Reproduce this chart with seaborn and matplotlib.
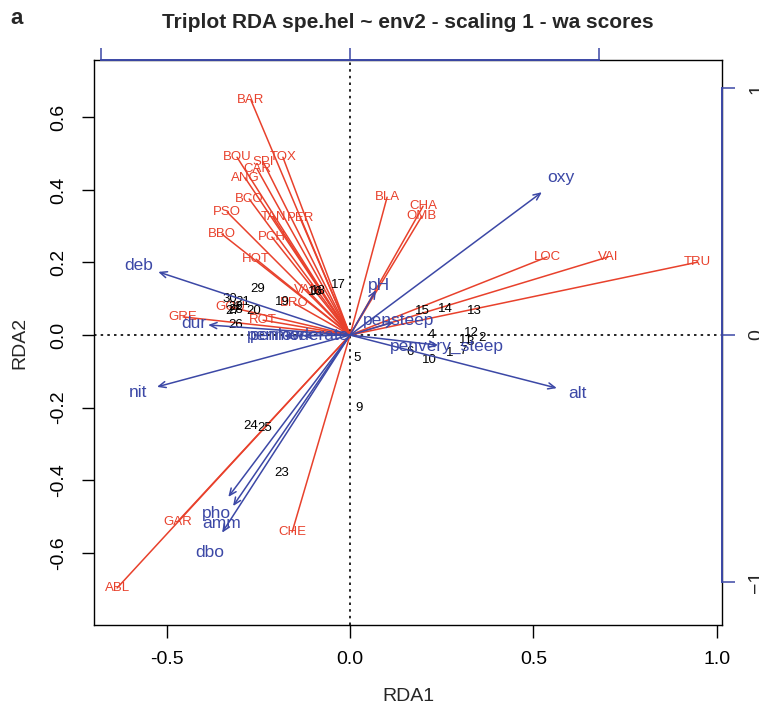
import numpy as np
import pandas as pd
import matplotlib
matplotlib.use("Agg")
import matplotlib.pyplot as plt
import seaborn as sns

# species wa-scores (scaling 1)
species = ["BAR", "TOX", "SPI", "BOU", "CAR", "ANG", "BCO", "PSO", "TAN", "PER",
           "PCH", "BBO", "HOT", "VAN", "BRO", "GOU", "ROT", "GRE", "GAR", "ABL",
           "CHE", "BLA", "CHA", "OMB", "LOC", "VAI", "TRU"]
sp_x = [-0.270, -0.183, -0.237, -0.308, -0.253, -0.286, -0.275, -0.335, -0.210, -0.136,
        -0.213, -0.349, -0.256, -0.117, -0.153, -0.327, -0.237, -0.455, -0.471, -0.635,
        -0.158, 0.101, 0.199, 0.196, 0.537, 0.703, 0.948]
sp_y = [0.647, 0.490, 0.477, 0.490, 0.457, 0.433, 0.375, 0.339, 0.325, 0.322,
        0.270, 0.278, 0.209, 0.124, 0.088, 0.077, 0.041, 0.050, -0.515, -0.697,
        -0.543, 0.380, 0.355, 0.328, 0.215, 0.215, 0.201]

# site scores
sites = ["1", "2", "3", "4", "5", "6", "7", "9", "10", "11", "12", "13", "14", "15",
         "16", "17", "18", "19", "20", "21", "22", "23", "24", "25", "26", "27", "28",
         "29", "30"]
site_x = [0.272, 0.360, 0.327, 0.223, 0.019, 0.163, 0.308, 0.025, 0.215, 0.316, 0.330,
          0.338, 0.259, 0.196, -0.095, -0.033, -0.087, -0.185, -0.262, -0.292, -0.311,
          -0.185, -0.272, -0.234, -0.313, -0.319, -0.311, -0.251, -0.327]
site_y = [-0.050, -0.008, -0.019, 0.000, -0.063, -0.047, -0.044, -0.201, -0.069, -0.014,
          0.006, 0.066, 0.072, 0.066, 0.118, 0.138, 0.121, 0.091, 0.066, 0.091, 0.077,
          -0.380, -0.251, -0.256, 0.028, 0.066, 0.069, 0.127, 0.099]

# environmental biplot scores (units of the top / right axes)
env = ["oxy", "alt", "deb", "nit", "dur", "pho", "amm", "dbo", "pH",
       "pensteep", "penvery_steep", "penlow", "penmoderate"]
env_x = [0.769, 0.829, -0.769, -0.774, -0.569, -0.488, -0.469, -0.513, 0.104,
         0.176, 0.353, -0.265, -0.188]
env_y = [0.579, -0.215, 0.256, -0.210, 0.041, -0.656, -0.693, -0.801, 0.182,
         0.053, -0.041, -0.003, -0.003]

mul = 0.68  # arrow multiplier: plot units = mul * biplot score

red = "#e8412c"
blue = "#3c48a6"

sns.set_style("white")
plt.rcParams["font.family"] = ["Liberation Sans", "DejaVu Sans"]

fig = plt.figure(figsize=(7.59, 7.07), dpi=100)
ax = fig.add_axes([94 / 759, 1 - 625 / 707, (722 - 94) / 759, (625 - 60) / 707])

ax.axhline(0, color="black", ls=(0, (1.5, 2.5)), lw=1.2, zorder=0)
ax.axvline(0, color="black", ls=(0, (1.5, 2.5)), lw=1.2, zorder=0)

# species as red segments from origin
seg = pd.DataFrame({
    "species": np.repeat(species, 2),
    "x": np.ravel([[0, v] for v in sp_x]),
    "y": np.ravel([[0, v] for v in sp_y]),
})
sns.lineplot(data=seg, x="x", y="y", units="species", estimator=None, sort=False,
             color=red, lw=1.1, ax=ax, legend=False)
for name, x, y in zip(species, sp_x, sp_y):
    ax.text(x, y, name, color=red, fontsize=9.5, ha="center", va="center", zorder=3)

for name, x, y in zip(sites, site_x, site_y):
    ax.text(x, y, name, color="black", fontsize=9.5, ha="center", va="center", zorder=4)

for name, x, y in zip(env, env_x, env_y):
    ax.annotate("", xy=(x * mul, y * mul), xytext=(0, 0),
                arrowprops=dict(arrowstyle="->,head_length=0.5,head_width=0.22",
                                color=blue, lw=1.1, shrinkA=0, shrinkB=0), zorder=5)
    ax.text(x * mul * 1.1, y * mul * 1.1, name, color=blue, fontsize=12.5,
            ha="center", va="center", zorder=6)

ax.set_xlim(-0.698, 1.014)
ax.set_ylim(-0.799, 0.758)
ax.set_xticks([-0.5, 0.0, 0.5, 1.0])
ax.set_yticks([-0.6, -0.4, -0.2, 0.0, 0.2, 0.4, 0.6])
ax.xaxis.set_major_formatter(matplotlib.ticker.FormatStrFormatter("%.1f"))
ax.yaxis.set_major_formatter(matplotlib.ticker.FormatStrFormatter("%.1f"))
ax.tick_params(direction="out", length=9, width=1, labelsize=14, pad=10,
               bottom=True, left=True, colors="black")
for lab in ax.get_yticklabels():
    lab.set_rotation(90)
    lab.set_va("center")
for sp in ax.spines.values():
    sp.set_color("black")
    sp.set_linewidth(1)

ax.set_xlabel("RDA1", fontsize=14, labelpad=14)
ax.set_ylabel("RDA2", fontsize=14, labelpad=16)

# secondary axes for the arrows
top = ax.secondary_xaxis("top", functions=(lambda v: v / mul, lambda v: v * mul))
top.set_xticks([-1, 0, 1])
top.tick_params(direction="out", length=9, width=1.1, color=blue, labeltop=False)
top.spines["top"].set_color(blue)
top.spines["top"].set_linewidth(1.4)
top.spines["top"].set_bounds(-1, 1)
top.set_zorder(10)

right = ax.secondary_yaxis("right", functions=(lambda v: v / mul, lambda v: v * mul))
right.set_yticks([-1, 0, 1])
right.tick_params(direction="out", length=9, width=1.1, color=blue, labelsize=14, pad=10)
for lab in right.get_yticklabels():
    lab.set_rotation(90)
    lab.set_va("center")
right.spines["right"].set_color(blue)
right.spines["right"].set_linewidth(1.4)
right.spines["right"].set_bounds(-1, 1)
right.set_zorder(10)

fig.text(408 / 759, 1 - 22 / 707, "Triplot RDA spe.hel ~ env2 - scaling 1 - wa scores",
         fontsize=15, fontweight="bold", ha="center", va="center")
fig.text(10 / 759, 1 - 18 / 707, "a", fontsize=16, fontweight="bold", ha="left", va="center")

fig.savefig("out.png", dpi=100)
